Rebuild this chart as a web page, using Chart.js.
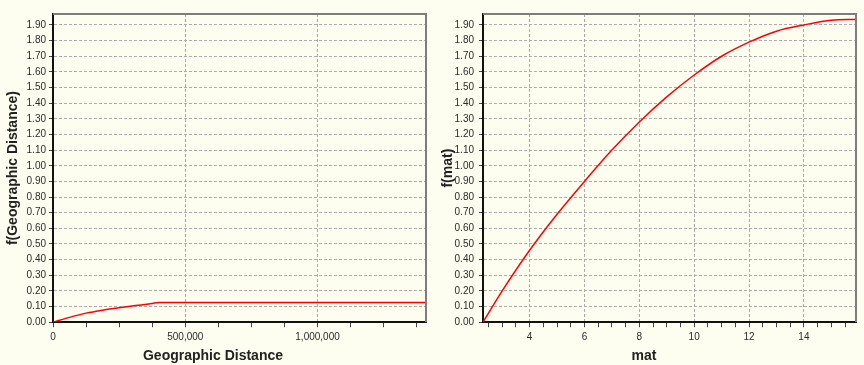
<!DOCTYPE html>
<html>
<head>
<meta charset="utf-8">
<script src="https://cdn.jsdelivr.net/npm/chart.js@4.4.1/dist/chart.umd.min.js"></script>
<style>
  html, body { margin: 0; padding: 0; background: #fdfdf0; }
  #wrap { position: relative; width: 864px; height: 365px; overflow: hidden; }
  canvas { position: absolute; top: 0; }
  #geoChart { left: 0; }
  #matChart { left: 432px; }
</style>
</head>
<body>
<div id="wrap">
  <canvas id="geoChart" width="432" height="365"></canvas>
  <canvas id="matChart" width="432" height="365"></canvas>
</div>
<script>
// values
const geoDist = [0, 62500, 125000, 187500, 250000, 312500, 375000, 400000, 1410000];
const geoF = [0, 0.031, 0.058, 0.077, 0.092, 0.106, 0.120, 0.126, 0.126];

const matX = [2.3, 3, 4, 5, 6, 7, 8, 9, 10, 11, 12, 13, 14, 15, 15.9];
const matF = [0, 0.20, 0.46, 0.69, 0.90, 1.10, 1.28, 1.44, 1.58, 1.70, 1.79, 1.86, 1.90, 1.93, 1.935];

// tick marks and labelled ticks
const yTicks = [0, 0.1, 0.2, 0.3, 0.4, 0.5, 0.6, 0.7, 0.8, 0.9, 1.0,
                1.1, 1.2, 1.3, 1.4, 1.5, 1.6, 1.7, 1.8, 1.9];
const geoTicks = [0, 125000, 250000, 375000, 500000, 625000, 750000, 875000,
                  1000000, 1125000, 1250000, 1375000];
const geoLabels = [0, 500000, 1000000];
const matTicks = [2.5, 3, 3.5, 4, 4.5, 5, 5.5, 6, 6.5, 7, 7.5, 8, 8.5, 9, 9.5,
                  10, 10.5, 11, 11.5, 12, 12.5, 13, 13.5, 14, 14.5, 15, 15.5];
const matLabels = [4, 6, 8, 10, 12, 14];

Chart.defaults.font.family = '"Liberation Sans", Arial, sans-serif';
Chart.defaults.font.size = 10;
Chart.defaults.color = '#2b2b2b';

// gray top and right border of the plot
const frame = {
  id: 'frame',
  afterDraw(chart) {
    const a = chart.chartArea, ctx = chart.ctx;
    ctx.save();
    ctx.strokeStyle = '#7d7d7d';
    ctx.lineWidth = 2;
    ctx.beginPath();
    ctx.moveTo(a.left, a.top);
    ctx.lineTo(a.right, a.top);
    ctx.lineTo(a.right, a.bottom);
    ctx.stroke();
    ctx.restore();
  }
};

function makeChart(id, xs, ys, opt) {
  const pts = xs.map((x, i) => ({x: x, y: ys[i]}));
  return new Chart(document.getElementById(id), {
    type: 'line',
    data: {
      datasets: [{
        data: pts,
        borderColor: '#ff0000',
        borderWidth: 1.5,
        pointRadius: 0,
        fill: false,
        cubicInterpolationMode: 'monotone'
      }]
    },
    options: {
      responsive: false,
      animation: false,
      devicePixelRatio: 1,
      layout: { padding: { left: 0, top: 14, right: opt.padRight, bottom: 0 } },
      plugins: {
        legend: { display: false },
        tooltip: { enabled: false },
        title: {
          display: true,
          text: opt.xTitle,
          position: 'bottom',
          color: '#222',
          font: { size: 14, weight: 'bold' },
          padding: { top: 0, bottom: 0 }
        }
      },
      scales: {
        x: {
          type: 'linear',
          min: opt.xMin,
          max: opt.xMax,
          afterFit: s => { s.height = 26; },
          afterBuildTicks: s => { s.ticks = opt.xTicks.map(v => ({value: v})); },
          ticks: {
            autoSkip: false,
            maxRotation: 0,
            padding: 4,
            callback: v => opt.xLabels.includes(v) ? v.toLocaleString('en-US') : ''
          },
          grid: {
            color: c => (c.tick && c.tick.value > opt.xMin && opt.xLabels.includes(c.tick.value)) ? '#acacac' : 'rgba(0,0,0,0)',
            tickColor: '#444',
            tickLength: 5,
            lineWidth: 1
          },
          border: { color: '#111', width: 2, dash: [3, 2] }
        },
        y: {
          type: 'linear',
          min: 0,
          max: 1.97,
          afterFit: s => { s.width = opt.yWidth; },
          afterBuildTicks: s => { s.ticks = yTicks.map(v => ({value: v})); },
          ticks: {
            autoSkip: false,
            padding: opt.yTickPad,
            callback: v => v.toFixed(2)
          },
          grid: {
            color: c => (c.tick && c.tick.value > 0) ? '#acacac' : 'rgba(0,0,0,0)',
            tickColor: '#444',
            tickLength: 4,
            lineWidth: 1
          },
          border: { color: '#111', width: 2, dash: [3, 2] },
          title: {
            display: true,
            text: opt.yTitle,
            color: '#222',
            font: { size: 14, weight: 'bold' },
            padding: { top: opt.yTitlePad, bottom: 0 }
          }
        }
      }
    },
    plugins: [frame]
  });
}

makeChart('geoChart', geoDist, geoF, {
  xMin: 0, xMax: 1410000,
  xTicks: geoTicks, xLabels: geoLabels,
  xTitle: 'Geographic Distance',
  yTitle: 'f(Geographic Distance)',
  yWidth: 53, yTitlePad: 5, yTickPad: 3, padRight: 6
});

makeChart('matChart', matX, matF, {
  xMin: 2.3, xMax: 15.9,
  xTicks: matTicks, xLabels: matLabels,
  xTitle: 'mat',
  yTitle: 'f(mat)',
  yWidth: 51, yTitlePad: 8, yTickPad: 5, padRight: 8
});
</script>
</body>
</html>
